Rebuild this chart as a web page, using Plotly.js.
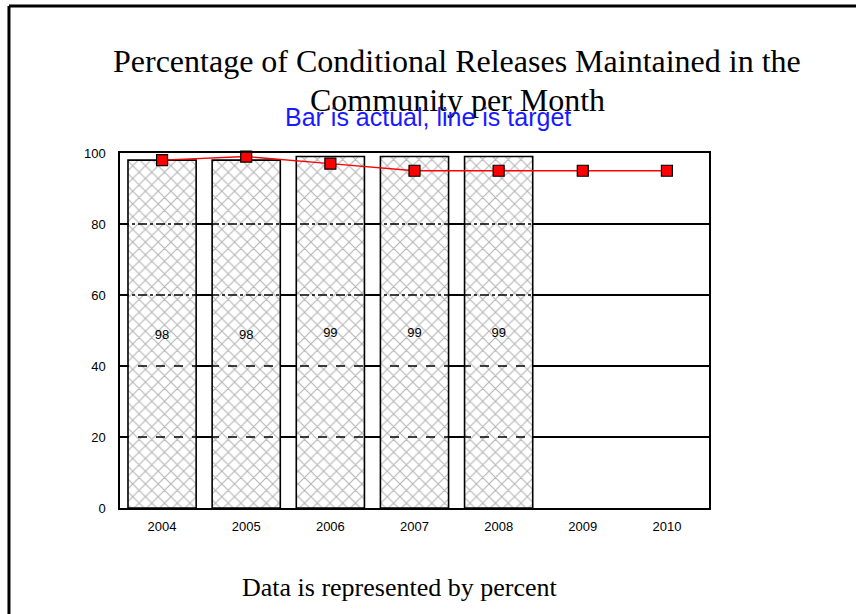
<!DOCTYPE html>
<html>
<head>
<meta charset="utf-8">
<script src="https://cdn.plot.ly/plotly-3.0.1.min.js"></script>
<style>
html,body{margin:0;padding:0;background:#fff;}
#chart{width:856px;height:614px;}
</style>
</head>
<body>
<div id="chart"></div>
<script>
// Data
const years = ["2004", "2005", "2006", "2007", "2008", "2009", "2010"];
const actualYears = ["2004", "2005", "2006", "2007", "2008"];
const actualValues = [98, 98, 99, 99, 99];
const targetValues = [98, 99, 97, 95, 95, 95, 95];
const yTicks = [0, 20, 40, 60, 80, 100];
const titleLine1 = "Percentage of Conditional Releases Maintained in the";
const titleLine2 = "Community per Month";
const subtitle = "Bar is actual, line is target";
const footer = "Data is represented by percent";

const bars = {
  type: "bar",
  x: actualYears,
  y: actualValues,
  text: actualValues.map(String),
  textposition: "inside",
  insidetextanchor: "middle",
  textangle: 0,
  textfont: {family: "Liberation Sans, Arial, sans-serif", size: 13, color: "#000"},
  marker: {
    color: "#ffffff",
    line: {color: "#000000", width: 1.6},
    pattern: {shape: "x", fgcolor: "#b4b4b4", bgcolor: "#ffffff", size: 9, solidity: 0.22}
  },
  hoverinfo: "skip",
  showlegend: false
};

const line = {
  type: "scatter",
  mode: "lines+markers",
  x: years,
  y: targetValues,
  line: {color: "#ff0000", width: 1.4},
  marker: {symbol: "square", size: 11, color: "#ff0000", line: {color: "#000", width: 1.2}},
  hoverinfo: "skip",
  showlegend: false,
  cliponaxis: false
};

// dashed overlay lines through the bar region at the grid values
const gridDash = {20: "dash", 40: "dash", 60: "dashdot", 80: "dashdot"};
const shapes = yTicks.filter(v => v > 0 && v < 100).map(v => ({
  type: "line", xref: "x", yref: "y", x0: -0.5, x1: actualYears.length - 0.5, y0: v, y1: v,
  line: {color: "#000", width: 1.6, dash: gridDash[v]}, layer: "above"
}));
// outer frame (left and top)
shapes.push({type: "line", xref: "paper", yref: "paper", x0: -0.1885, x1: -0.1885, y0: -0.4, y1: 1.414,
  line: {color: "#000", width: 3}});
shapes.push({type: "line", xref: "paper", yref: "paper", x0: -0.1885, x1: 1.4, y0: 1.414, y1: 1.414,
  line: {color: "#000", width: 3}});

const layout = {
  width: 856, height: 614,
  margin: {l: 120, r: 147, t: 153, b: 106, pad: 0},
  paper_bgcolor: "#fff",
  plot_bgcolor: "#fff",
  bargap: 0.19,
  xaxis: {
    type: "category",
    categoryarray: years,
    range: [-0.5, years.length - 0.5],
    showline: true, linecolor: "#000", linewidth: 1.6, mirror: true,
    showgrid: false, ticks: "", zeroline: false,
    tickfont: {family: "Liberation Sans, Arial, sans-serif", size: 13, color: "#000"},
    ticklabelstandoff: 6
  },
  yaxis: {
    range: [0, 100],
    tickvals: yTicks,
    showline: true, linecolor: "#000", linewidth: 1.6, mirror: true,
    showgrid: true, gridcolor: "#000", gridwidth: 1.2,
    zeroline: false, ticks: "",
    tickfont: {family: "Liberation Sans, Arial, sans-serif", size: 13, color: "#000"},
    ticklabelstandoff: 10
  },
  shapes: shapes,
  annotations: [
    {text: titleLine1, xref: "paper", yref: "paper", x: (457 - 120) / 589, y: (508 - 61) / 355,
     xanchor: "center", yanchor: "middle", showarrow: false,
     font: {family: "Liberation Serif, Times New Roman, serif", size: 32, color: "#000"}},
    {text: titleLine2, xref: "paper", yref: "paper", x: (457 - 120) / 589, y: (508 - 100) / 355,
     xanchor: "center", yanchor: "middle", showarrow: false,
     font: {family: "Liberation Serif, Times New Roman, serif", size: 32, color: "#000"}},
    {text: subtitle, xref: "paper", yref: "paper", x: (428 - 120) / 589, y: (508 - 117) / 355,
     xanchor: "center", yanchor: "middle", showarrow: false,
     font: {family: "Liberation Sans, Arial, sans-serif", size: 25, color: "#1a1aff"}},
    {text: footer, xref: "paper", yref: "paper", x: (400 - 120) / 589, y: (508 - 587) / 355,
     xanchor: "center", yanchor: "middle", showarrow: false,
     font: {family: "Liberation Serif, Times New Roman, serif", size: 26, color: "#000"}}
  ]
};

Plotly.newPlot("chart", [bars, line], layout, {staticPlot: true, displayModeBar: false});
</script>
</body>
</html>
